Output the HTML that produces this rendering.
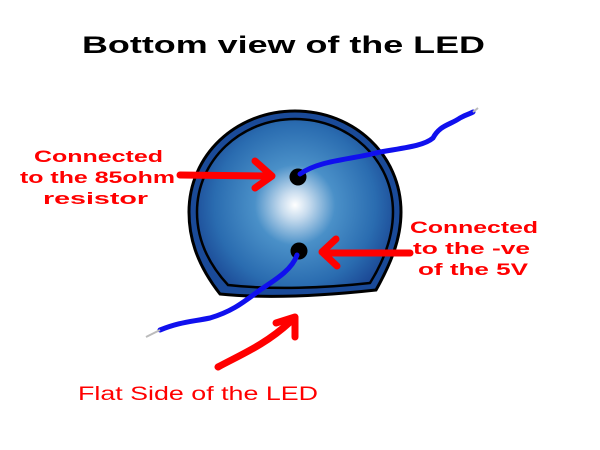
<!DOCTYPE html>
<html><head><meta charset="utf-8"><style>
html,body{margin:0;padding:0;background:#fff;}
svg{display:block}
text{font-family:"Liberation Sans",Arial,sans-serif;}
</style></head><body>
<svg width="600" height="450" viewBox="0 0 600 450" xmlns="http://www.w3.org/2000/svg">
<defs>
<radialGradient id="g" cx="295" cy="205" r="115" gradientUnits="userSpaceOnUse">
<stop offset="0" stop-color="#ffffff"/>
<stop offset="0.12" stop-color="#c8dcee"/>
<stop offset="0.35" stop-color="#4a90c8"/>
<stop offset="0.7" stop-color="#2a6cb0"/>
<stop offset="1" stop-color="#163c8c"/>
</radialGradient>
</defs>
<text x="82" y="53" textLength="403" lengthAdjust="spacingAndGlyphs" font-size="24" font-weight="bold" fill="#000">Bottom view of the LED</text>
<!-- LED body -->
<path d="M220,294 C195,262 189,235 189,212 C189,155 236,111 295,111 C354,111 401,155 401,212 C401,240 390,265 376,290 C330,295 270,299 220,294 Z" fill="#1a4a98" stroke="#000" stroke-width="3"/>
<path d="M228,285 C203,258 197,233 197,212 C197,160 241,119 295,119 C349,119 393,160 393,212 C393,238 383,262 370,283 C325,288 272,290 228,285 Z" fill="url(#g)" stroke="#000" stroke-width="2.5"/>
<!-- holes -->
<circle cx="298" cy="177" r="8.5" fill="#000"/>
<circle cx="299" cy="251" r="8.5" fill="#000"/>
<!-- wires -->
<path d="M300,174 C320,160 350,160 380,152 C410,147 425,145 433,138 C440,125 450,125 460,118 C467,114 470,114 473,112" fill="none" stroke="#1010ee" stroke-width="5" stroke-linecap="round"/>
<line x1="473" y1="112" x2="478" y2="108" stroke="#bbb" stroke-width="2"/>
<path d="M297,255 C292,270 275,280 260,290 C240,305 230,312 210,318 C190,322 180,322 160,330" fill="none" stroke="#1010ee" stroke-width="5" stroke-linecap="round"/>
<line x1="160" y1="330" x2="146" y2="337" stroke="#bbb" stroke-width="2"/>
<!-- arrows -->
<g stroke="#ff0000" stroke-width="7" fill="none" stroke-linecap="round" stroke-linejoin="round">
<line x1="180" y1="175" x2="270" y2="176"/>
<path d="M255,161 L272,176 L255,188"/>
<line x1="410" y1="253" x2="325" y2="253"/>
<path d="M336,239 L322,252 L337,266"/>
<path d="M218,367 C240,355 265,345 290,322"/>
<path d="M276,323 L295,317 L295,337"/>
</g>
<g fill="#ff0000" font-weight="bold" font-size="17">
<text x="34" y="162" textLength="129" lengthAdjust="spacingAndGlyphs">Connected</text>
<text x="20" y="183" textLength="155" lengthAdjust="spacingAndGlyphs">to the 85ohm</text>
<text x="43" y="204" textLength="105" lengthAdjust="spacingAndGlyphs">resistor</text>
<text x="410" y="233" textLength="128" lengthAdjust="spacingAndGlyphs">Connected</text>
<text x="413" y="254" textLength="117" lengthAdjust="spacingAndGlyphs">to the -ve</text>
<text x="418" y="275" textLength="110" lengthAdjust="spacingAndGlyphs">of the 5V</text>
</g>
<text x="78" y="400" textLength="240" lengthAdjust="spacingAndGlyphs" font-size="19" fill="#ff0000">Flat Side of the LED</text>
</svg>
</body></html>
